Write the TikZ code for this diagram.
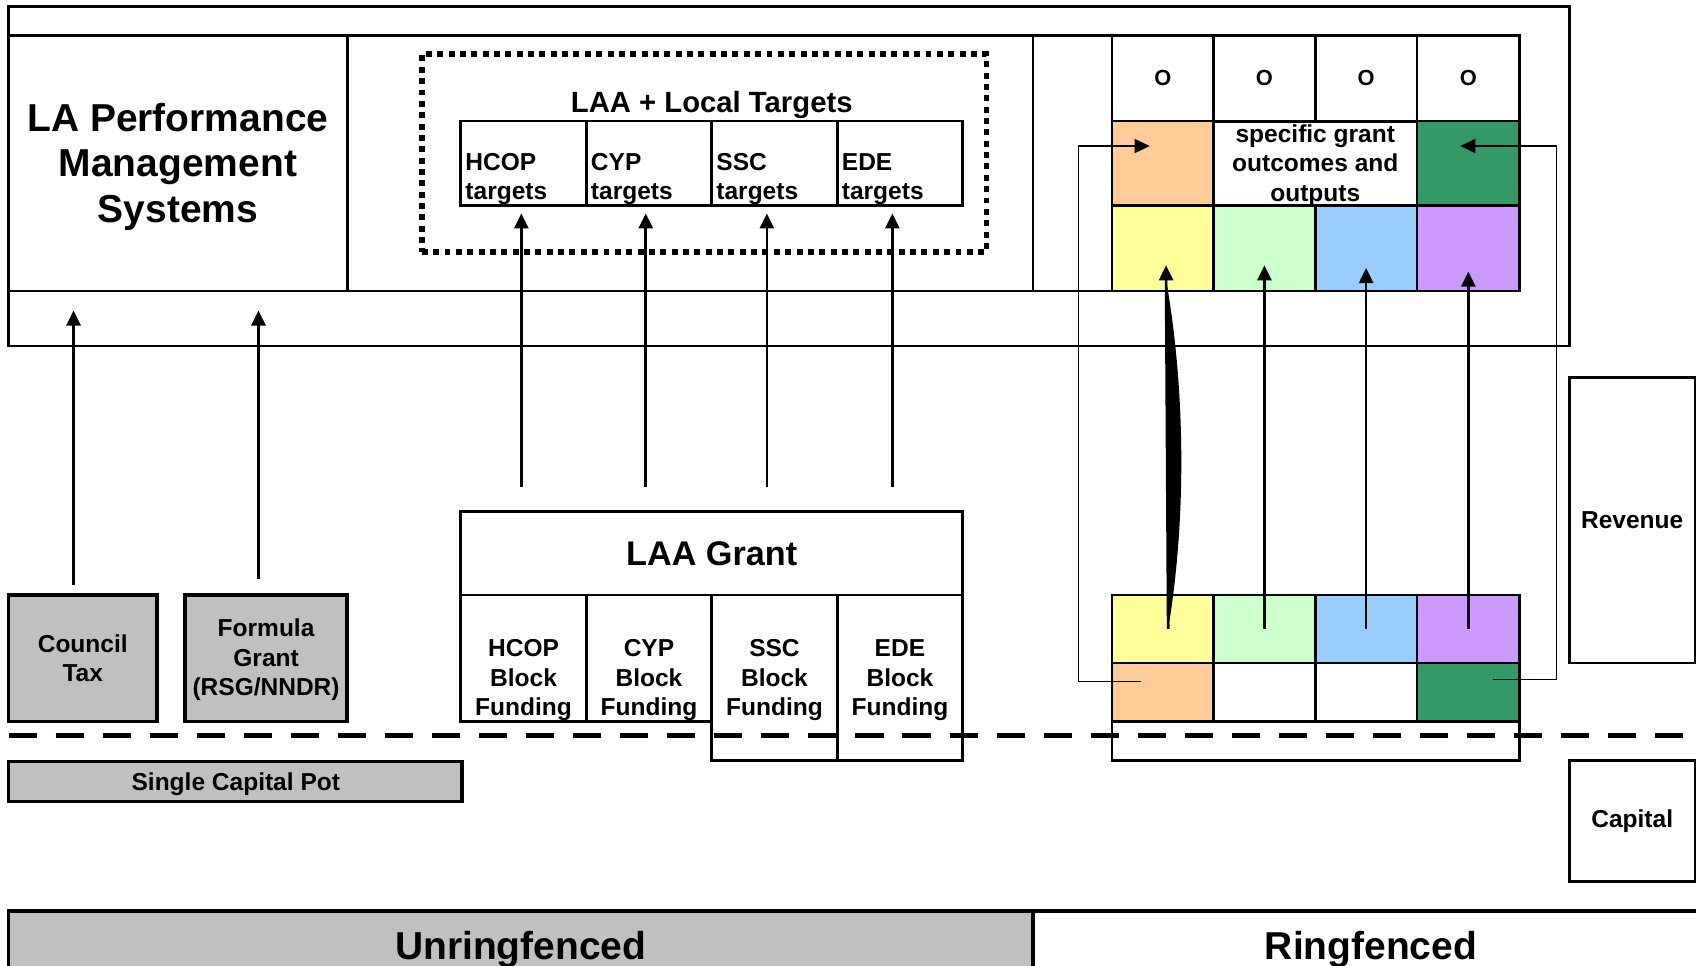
\documentclass[tikz,border=0pt]{standalone}
\usepackage{fontspec}
\setmainfont{Liberation Sans}
\usepackage{xcolor}
\usetikzlibrary{arrows.meta}

\definecolor{paneGray}{HTML}{C0C0C0}
\definecolor{cOrange}{HTML}{FFCC99}
\definecolor{cGreen}{HTML}{339966}
\definecolor{cYellow}{HTML}{FFFF99}
\definecolor{cMint}{HTML}{CCFFCC}
\definecolor{cBlue}{HTML}{99CCFF}
\definecolor{cPurple}{HTML}{CC99FF}

\newcommand{\bodyfont}{\bfseries\fontsize{12.9}{15.6}\selectfont}
\newcommand{\ofont}{\bfseries\fontsize{11.5}{14}\selectfont}
\newcommand{\midfont}{\bfseries\fontsize{15.4}{18}\selectfont}
\newcommand{\bigfont}{\bfseries\fontsize{18}{21}\selectfont}
\newcommand{\hugefont}{\bfseries\fontsize{20.5}{23.9}\selectfont}

% box from (x1,y1) to (x2,y2), in pixels of the drawing
\newcommand{\pane}[7][]{%
  \pgfmathsetmacro{\paneW}{(#5-#3)*0.02}%
  \pgfmathsetmacro{\paneH}{(#6-#4)*0.02}%
  \node[pane,minimum width=\paneW cm,minimum height=\paneH cm,#1]
    (#2) at ({(#3+#5)/2},{(#4+#6)/2}) {#7};}

\begin{document}
\begin{tikzpicture}[x=0.02cm,y=-0.02cm,
  pane/.style={draw,line width=0.05cm,inner sep=0pt,align=center,font=\bodyfont},
  greypane/.style={fill=paneGray,line width=0.065cm},
  dotbox/.style={line width=0.1cm,dash pattern=on 0.11cm off 0.1cm},
  lbl/.style={inner sep=0pt,align=center,font=\bodyfont},
  tip/.style={-{Triangle[length=0.28cm,width=0.26cm]}},
  arr/.style={tip,line width=0.05cm},
  link/.style={tip,line width=0.025cm},
  cut/.style={line width=0.11cm,dash pattern=on 0.52cm off 0.35cm}]
\useasboundingbox (0,0) rectangle (1568,893);

% performance frame
\pane{frame}{8}{6}{1451}{320}{}
\pane{perf}{8}{33}{321}{269}{}
\node[lbl,font=\hugefont] (perfTxt) at (164.5,154) {LA Performance\\Management\\Systems};
\pane{targetsPanel}{321}{33}{955}{269}{}
\pane{spacer}{955}{33}{1028}{269}{}
\pane[dotbox]{laaTargets}{390}{50}{912}{233}{}
\node[lbl,font=\midfont] (laaTitle) at (658,97) {LAA + Local Targets};
\foreach \n/\xa/\xb/\lab in {hcopT/426/542/HCOP,cypT/542/658/CYP,sscT/658/774/SSC,edeT/774/890/EDE}{
  \pane{\n}{\xa}{112}{\xb}{190}{}
  \node[lbl,align=left,anchor=west] (\n txt) at ({\xa+4},165.5) {\lab\\targets};
}

% specific grants, top
\foreach \c/\xa/\xb/\col in {1/1028/1122/cYellow,2/1122/1216/cMint,3/1216/1310/cBlue,4/1310/1405/cPurple}{
  \pane[font=\ofont]{o\c}{\xa}{33}{\xb}{112}{O}
  \pane[fill=\col]{t\c}{\xa}{190}{\xb}{269}{}
}
\pane[fill=cOrange]{tOrange}{1028}{112}{1122}{190}{}
\pane{spec}{1122}{112}{1310}{190}{}
\node[lbl] (specTxt) at (1216,153) {specific grant\\outcomes and\\outputs};
\pane[fill=cGreen]{tGreen}{1310}{112}{1405}{190}{}

% funding
\pane[greypane]{ct}{8}{550}{145}{667}{Council\\Tax}
\pane[greypane]{fg}{171}{550}{321}{667}{}
\node[lbl] (fgTxt) at (246,610) {Formula\\Grant\\(RSG/NNDR)};
\pane[greypane]{scp}{8}{704}{427}{741}{}
\node[lbl] (scpTxt) at (218,725) {Single Capital Pot};
\pane[font=\bigfont]{laa}{426}{473}{890}{550}{LAA Grant}
\foreach \n/\xa/\xb/\yb/\lab in {hcopB/426/542/667/HCOP,cypB/542/658/667/CYP,sscB/658/774/703/SSC,edeB/774/890/703/EDE}{
  \pane{\n}{\xa}{550}{\xb}{\yb}{}
  \node[lbl] (\n txt) at ({(\xa+\xb)/2},629) {\lab\\Block\\Funding};
}

% specific grants, bottom
\foreach \c/\xa/\xb/\col in {1/1028/1122/cYellow,2/1122/1216/cMint,3/1216/1310/cBlue,4/1310/1405/cPurple}{
  \pane[fill=\col]{b\c}{\xa}{550}{\xb}{613}{}
}
\pane[fill=cOrange]{bOrange}{1028}{613}{1122}{667}{}
\pane{bBlankA}{1122}{613}{1216}{667}{}
\pane{bBlankB}{1216}{613}{1310}{667}{}
\pane[fill=cGreen]{bGreen}{1310}{613}{1405}{667}{}
\pane{capRow}{1028}{667}{1405}{703}{}

\pane{rev}{1451}{349}{1567}{613}{Revenue}
\pane{cap}{1451}{703}{1567}{815}{Capital}
\pane[greypane,font=\hugefont]{unring}{8}{842}{955}{914}{Unringfenced}
\pane[font=\hugefont,line width=0.065cm]{ring}{955}{842}{1580}{914}{Ringfenced}

% flows
\coordinate (ctTip) at (68,287);
\coordinate (fgTip) at (239,287);
\draw[arr,shorten <=0.15cm] (ctTip |- ct.north) -- (ctTip);
\draw[arr,shorten <=0.27cm] (fgTip |- fg.north) -- (fgTip);
\foreach \n/\x in {hcopT/482,cypT/597,sscT/709,edeT/825}{
  \coordinate (col) at (\x,0);
  \draw[arr,shorten <=0.43cm,shorten >=0.12cm] (laa.north -| col) -- (\n.south -| col);
}
\foreach \c/\s in {2/0.5,3/0.45,4/0.385}{
  \draw[arr,shorten >=-\s cm] (b\c.center) -- (b\c.center |- t\c.south);
}
\coordinate (lensBot) at ([xshift=0.1cm]b1.center);
\coordinate (lensTop) at ([xshift=0.06cm,yshift=0.24cm]t1.south);
\fill (lensBot) .. controls +(17,-102) and +(18,102) .. (lensTop) -- cycle;
\draw[arr] (lensBot) -- ([yshift=0.26cm]lensTop);

\coordinate (loopA) at ([xshift=-0.4cm,yshift=0.2cm]bOrange.center);
\coordinate (loopB) at ([xshift=-0.24cm,yshift=0.32cm]tOrange.center);
\draw[link] (loopA) -- ++(-58,0) |- (loopB);
\coordinate (loopC) at ([xshift=0.45cm,yshift=0.24cm]bGreen.center);
\coordinate (loopD) at ([xshift=-0.15cm,yshift=0.32cm]tGreen.center);
\draw[link] (loopC) -- ++(59,0) |- (loopD);

% revenue / capital line
\draw[cut] (8,680) -- (1568,680);
\end{tikzpicture}
\end{document}
